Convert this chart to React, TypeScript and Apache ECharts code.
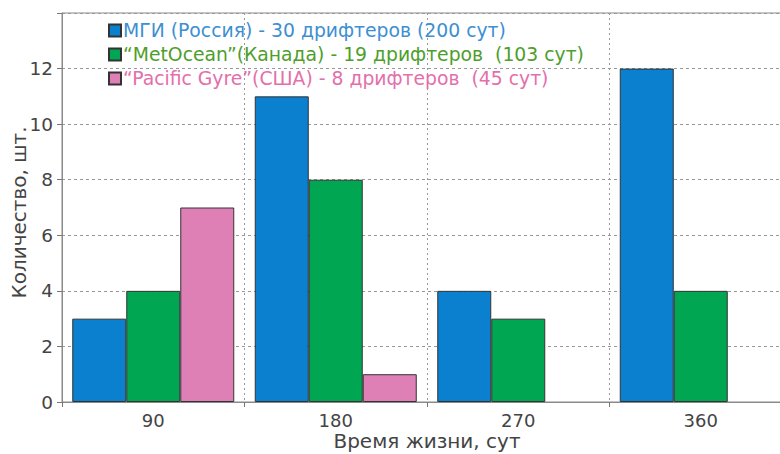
import React, { useEffect, useRef } from "react";
import * as echarts from "echarts";

const categories = ["90", "180", "270", "360"];
const mgi = [3, 11, 4, 12];
const metOcean = [4, 8, 3, 4];
const pacificGyre = [7, 1, 0, 0];
const seriesNames = [
  "МГИ (Россия) - 30 дрифтеров (200 сут)",
  "“MetOcean”(Канада) - 19 дрифтеров  (103 сут)",
  "“Pacific Gyre”(США) - 8 дрифтеров  (45 сут)",
];
const yTicks = [0, 2, 4, 6, 8, 10, 12];

const barColors = ["#0a80cf", "#00a651", "#de7fb6"];
const legendTextColors = ["#3d8fd2", "#4e9e2c", "#e36fab"];

export default function App() {
  const ref = useRef<HTMLDivElement>(null);
  useEffect(() => {
    if (!ref.current) return;
    const chart = echarts.init(ref.current, null, { renderer: "svg" });
    const font = "DejaVu Sans";
    const data = [mgi, metOcean, pacificGyre];
    chart.setOption({
      animation: false,
      textStyle: { fontFamily: font },
      grid: {
        left: 62,
        top: 13,
        bottom: 52,
        right: -12,
        containLabel: false,
        outerBoundsMode: "none",
        show: true,
        borderColor: "#8a8a8a",
        borderWidth: 1,
      },
      legend: {
        orient: "vertical",
        left: 103,
        top: 16,
        itemWidth: 12,
        itemHeight: 12,
        itemGap: 5,
        icon: "rect",
        selectedMode: false,
        data: seriesNames.map((n, i) => ({
          name: n,
          textStyle: { color: legendTextColors[i], fontSize: 18.8, fontFamily: font },
        })),
        textStyle: { fontSize: 18.8, fontFamily: font, padding: [0, 0, 0, -3] },
      },
      xAxis: {
        type: "category",
        data: categories,
        boundaryGap: true,
        name: "Время жизни, сут",
        nameLocation: "middle",
        nameGap: 29,
        nameMoveOverlap: false,
        nameTextStyle: { fontSize: 20, color: "#444", fontFamily: font },
        axisLine: { lineStyle: { color: "#8a8a8a", width: 1 } },
        axisTick: { show: true, length: 5, lineStyle: { color: "#777" } },
        axisLabel: { fontSize: 18, color: "#444", margin: 9, fontFamily: font },
        splitLine: {
          show: true,
          lineStyle: { type: [2, 3], color: "#999", width: 1 },
        },
      },
      yAxis: {
        type: "value",
        min: 0,
        max: 14,
        interval: 2,
        name: "Количество, шт.",
        nameLocation: "middle",
        nameGap: 33,
        nameMoveOverlap: false,
        nameTextStyle: { fontSize: 20, color: "#444", fontFamily: font, padding: [0, 10, 0, 0] },
        axisLine: { show: true, lineStyle: { color: "#8a8a8a", width: 1 } },
        axisTick: { show: true, length: 5, lineStyle: { color: "#777" } },
        axisLabel: {
          fontSize: 18.5,
          color: "#444",
          margin: 9,
          fontFamily: font,
          formatter: (v: number) => (yTicks.includes(v) ? String(v) : ""),
        },
        splitLine: {
          show: true,
          lineStyle: { type: [3, 3], color: "#999", width: 1 },
        },
      },
      series: seriesNames.map((n, i) => ({
        name: n,
        type: "bar",
        data: data[i].map((v) => (v === 0 ? null : v)),
        barWidth: 54,
        barGap: "0%",
        itemStyle: { color: barColors[i], borderColor: "#333", borderWidth: 1 },
      })),
    });
    return () => chart.dispose();
  }, []);
  return <div ref={ref} style={{ width: 780, height: 454, position: "absolute", left: 0, top: 0 }} />;
}
